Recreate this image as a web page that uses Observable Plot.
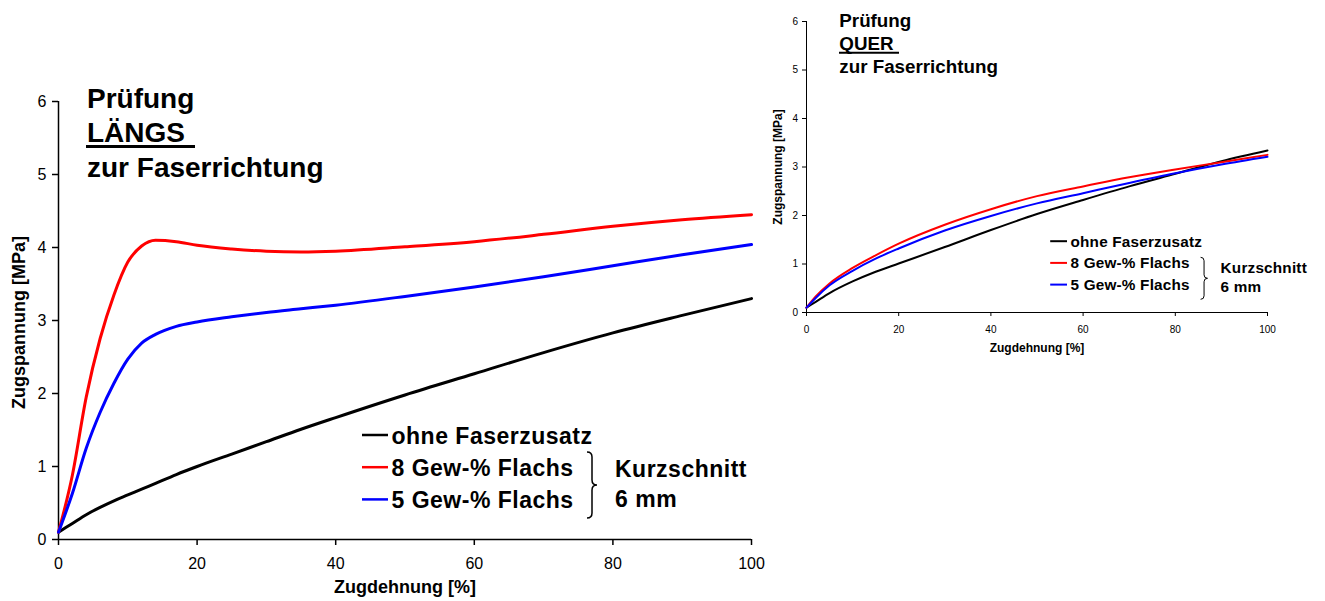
<!DOCTYPE html>
<html><head><meta charset="utf-8">
<script src="https://cdn.jsdelivr.net/npm/d3@7"></script>
<script src="https://cdn.jsdelivr.net/npm/@observablehq/plot@0.6"></script>
<style>
body{margin:0;background:#fff;}
#wrap{position:relative;width:1325px;height:601px;overflow:hidden;font-family:"Liberation Sans",Arial,sans-serif;}
#left{position:absolute;left:0;top:0;}
#right{position:absolute;left:760px;top:0;}
</style></head><body><div id="wrap"><div id="left"></div><div id="right"></div></div>
<script>
// ---- texts ----
const seriesNames = ["ohne Faserzusatz", "8 Gew-% Flachs", "5 Gew-% Flachs"];
const seriesColors = ["#000000", "#ff0000", "#0000ff"];
const groupLabel = ["Kurzschnitt", "6 mm"];
const titleLeft = ["Prüfung", "LÄNGS ", "zur Faserrichtung"];
const titleRight = ["Prüfung", "QUER ", "zur Faserrichtung"];
const xLabel = "Zugdehnung [%]";
const yLabel = "Zugspannung [MPa]";
const xTicks = [0, 20, 40, 60, 80, 100];
const yTicks = [0, 1, 2, 3, 4, 5, 6];

// ---- left panel: LÄNGS ----
const strainL   = [0, 2, 4, 6, 8, 10, 12, 14, 17, 20, 25, 30, 35, 40, 50, 60, 70, 80, 90, 100];
const ohneL     = [0.1, 0.22, 0.34, 0.44, 0.53, 0.61, 0.69, 0.77, 0.89, 1.0, 1.17, 1.34, 1.51, 1.67, 1.98, 2.27, 2.56, 2.83, 3.07, 3.3];
const flachs8L  = [0.1, 0.88, 1.95, 2.75, 3.35, 3.8, 4.02, 4.1, 4.08, 4.03, 3.98, 3.95, 3.94, 3.95, 4.01, 4.08, 4.18, 4.29, 4.38, 4.45];
const flachs5L  = [0.1, 0.63, 1.25, 1.74, 2.14, 2.47, 2.69, 2.81, 2.92, 2.98, 3.05, 3.11, 3.16, 3.21, 3.33, 3.46, 3.6, 3.75, 3.9, 4.04];

// ---- right panel: QUER ----
const strainQ   = [0, 2, 5, 10, 15, 20, 30, 40, 50, 60, 70, 80, 90, 100];
const ohneQ     = [0.1, 0.22, 0.4, 0.64, 0.84, 1.01, 1.35, 1.7, 2.03, 2.32, 2.6, 2.86, 3.12, 3.34];
const flachs8Q  = [0.1, 0.33, 0.6, 0.92, 1.18, 1.42, 1.81, 2.13, 2.4, 2.6, 2.79, 2.95, 3.1, 3.25];
const flachs5Q  = [0.1, 0.3, 0.56, 0.86, 1.11, 1.32, 1.69, 1.99, 2.25, 2.46, 2.67, 2.87, 3.05, 3.21];

const FONT = "Liberation Sans, Arial, sans-serif";

function toRows(xs, ys, name) { return xs.map((x, i) => ({x, y: ys[i], s: name})); }

function panel(c) {
  const rows = c.series.flatMap((ys, k) => toRows(c.x, ys, seriesNames[k]));
  const svg = Plot.plot({
    width: c.width, height: c.height,
    marginLeft: c.mL, marginRight: c.mR, marginTop: c.mT, marginBottom: c.mB,
    style: {fontFamily: FONT, fontSize: c.tickFont + "px", color: "#000", background: "transparent", overflow: "visible"},
    x: {domain: [0, 100]},
    y: {domain: [0, 6]},
    color: {domain: seriesNames, range: seriesColors},
    marks: [
      Plot.axisX({ticks: xTicks, tickFormat: d => String(d), tickSize: c.tickSize, tickPadding: c.xPad, label: null, strokeWidth: c.axisW}),
      Plot.axisY({ticks: yTicks, tickFormat: d => String(d), tickSize: c.tickSize, tickPadding: c.yPad, label: null, strokeWidth: c.axisW}),
      Plot.ruleX([0], {stroke: "#000", strokeWidth: c.axisW}),
      Plot.ruleY([0], {stroke: "#000", strokeWidth: c.axisW}),
      Plot.line(rows, {x: "x", y: "y", z: "s", stroke: "s", strokeWidth: c.lw, curve: "monotone-x"}),
      Plot.text([xLabel], {text: d => d, frameAnchor: "bottom", dy: c.xLabDy, textAnchor: "middle", lineAnchor: "middle", fontWeight: "bold", fontSize: c.labFont, fill: "#000"}),
      Plot.text([yLabel], {text: d => d, frameAnchor: "left", dx: c.yLabDx, dy: c.yLabDy, rotate: -90, textAnchor: "middle", lineAnchor: "middle", fontWeight: "bold", fontSize: c.labFont, fill: "#000"})
    ]
  });
  const g = d3.select(svg).append("g").attr("font-family", FONT).attr("font-weight", "bold")
    .attr("fill", "#000").attr("text-anchor", "start");
  // title
  c.title.forEach((t, i) => {
    g.append("text").attr("x", c.tX).attr("y", c.tY + i * c.tStep).attr("font-size", c.tFont)
      .style("white-space", "pre").text(t);
  });
  g.append("line").attr("x1", c.uX1).attr("x2", c.uX2).attr("y1", c.uY).attr("y2", c.uY)
    .attr("stroke", "#000").attr("stroke-width", c.uW);
  // legend
  seriesNames.forEach((name, i) => {
    const yb = c.lY + i * c.lStep;
    g.append("line").attr("x1", c.lX1).attr("x2", c.lX2).attr("y1", yb - c.lLineOff).attr("y2", yb - c.lLineOff)
      .attr("stroke", seriesColors[i]).attr("stroke-width", c.lLineW);
    g.append("text").attr("x", c.lTX).attr("y", yb).attr("font-size", c.lFont)
      .attr("letter-spacing", c.lSpace).text(name);
  });
  groupLabel.forEach((t, i) => {
    g.append("text").attr("x", c.kX).attr("y", c.kY + i * c.kStep).attr("font-size", c.lFont)
      .attr("letter-spacing", c.lSpace).text(t);
  });
  const {x0, x1, y0, y1} = c.br;
  const xm = (x0 + x1) / 2, ym = (y0 + y1) / 2, r = (x1 - x0) * 0.5;
  g.append("path")
    .attr("d", `M${x0},${y0} Q${xm},${y0} ${xm},${y0 + r} L${xm},${ym - r} Q${xm},${ym} ${x1},${ym} Q${xm},${ym} ${xm},${ym + r} L${xm},${y1 - r} Q${xm},${y1} ${x0},${y1}`)
    .attr("fill", "none").attr("stroke", "#000").attr("stroke-width", c.brW);
  return svg;
}

document.getElementById("left").appendChild(panel({
  x: strainL, series: [ohneL, flachs8L, flachs5L],
  width: 780, height: 601, mL: 58, mR: 29, mT: 101, mB: 62,
  tickFont: 16, tickSize: 6, xPad: 12, yPad: 6, axisW: 1.5, lw: 3,
  labFont: 18, xLabDy: 47.5, yLabDx: -39, yLabDy: 2,
  title: titleLeft, tX: 87, tY: 107.5, tStep: 34.7, tFont: 28,
  uX1: 86, uX2: 195, uY: 146.5, uW: 3,
  lY: 443.5, lStep: 32.2, lX1: 362, lX2: 388, lLineOff: 8.5, lLineW: 2.5, lTX: 391.5, lFont: 23, lSpace: 0.5,
  kX: 615, kY: 476.7, kStep: 30,
  br: {x0: 587, x1: 597, y0: 452, y1: 518}, brW: 1.5
}));

document.getElementById("right").appendChild(panel({
  x: strainQ, series: [ohneQ, flachs8Q, flachs5Q],
  width: 565, height: 380, mL: 46, mR: 58, mT: 21, mB: 68,
  tickFont: 10, tickSize: 4, xPad: 9, yPad: 4.5, axisW: 1, lw: 2,
  labFont: 12, xLabDy: 36, yLabDx: -28, yLabDy: 0,
  title: titleRight, tX: 79.3, tY: 27.3, tStep: 22.7, tFont: 18.8,
  uX1: 79, uX2: 139, uY: 52.7, uW: 2,
  lY: 246.7, lStep: 21.7, lX1: 290.2, lX2: 307, lLineOff: 5.5, lLineW: 2, lTX: 310.5, lFont: 15.3, lSpace: 0.2,
  kX: 460.6, kY: 272.7, kStep: 19,
  br: {x0: 440.6, x1: 447.5, y0: 257.3, y1: 299.3}, brW: 1
}));
</script>
</body></html>
